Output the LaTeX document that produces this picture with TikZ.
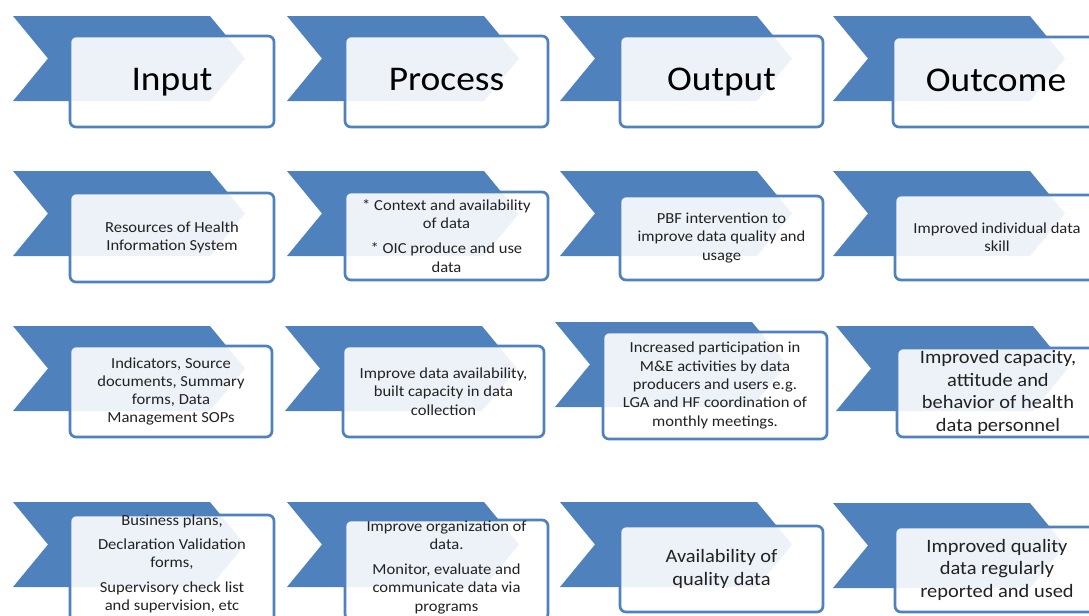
\documentclass[tikz,border=0pt]{standalone}
\usepackage{fontspec}
\setmainfont{Carlito}[FakeStretch=1.08]
\definecolor{accent}{HTML}{4F81BD}
\definecolor{bodyink}{HTML}{222222}

\tikzset{
  chevfill/.style={fill=accent},
  cellframe/.style={draw=accent, line width=2pt, fill=white, fill opacity=0.9,
                    rounded corners=4.5pt},
  headtext/.style={inner sep=0pt, align=center, text=black,
                   text height=19pt, text depth=5pt,
                   font=\fontsize{26}{30}\selectfont},
  celltext/.style={inner sep=0pt, align=center, text=bodyink,
                   font=\fontsize{11.5}{13.7}\selectfont},
  bigtext/.style={inner sep=0pt, align=center, text=bodyink,
                  font=\fontsize{14.2}{16.9}\selectfont}
}

% #1 name, #2 chevron left, #3 chevron top, #4 box left, #5 box right,
% #6 box top, #7 box bottom, #8 text style, #9 text
\newcommand\flowcell[9]{%
  \fill[chevfill] (#2,#3) -- ({#2+197},#3) -- ({#2+232},{#3+42.5})
     -- ({#2+197},{#3+85}) -- (#2,{#3+85}) -- ({#2+35},{#3+42.5}) -- cycle;
  \draw[cellframe] (#4,#6) rectangle (#5,#7);
  \node[#8] (#1) at ({(#4+#5)/2},{(#6+#7)/2}) {#9};
}

\begin{document}
\begin{tikzpicture}[x=0.75pt,y=-0.75pt]
  \useasboundingbox (0,0) rectangle (1089,615);
  \clip (0,0) rectangle (1089,615);

  % header row
  \flowcell{input}{13}{16}{70}{274}{36}{127}{headtext}{Input}
  \flowcell{process}{287}{16}{345}{548}{36}{127}{headtext}{Process}
  \flowcell{output}{560}{16}{620}{823}{36}{127}{headtext}{Output}
  \flowcell{outcome}{833}{16}{893}{1099}{37}{127}{headtext}{Outcome}

  % second row
  \flowcell{in2}{13}{171}{70}{274}{193}{282}{celltext}{Resources of Health\\Information System}
  \flowcell{pr2}{287}{171}{345}{548}{192}{280}{celltext}{* Context and availability\\of data\\[5pt]* OIC produce and use\\data}
  \flowcell{ou2}{560}{171}{620}{823}{196}{280}{celltext}{PBF intervention to\\improve data quality and\\usage}
  \flowcell{oc2}{833}{171}{895}{1099}{195}{280}{celltext}{Improved individual data\\skill}

  % third row
  \flowcell{in3}{13}{326}{70}{272}{346}{437}{celltext}{Indicators, Source\\documents, Summary\\forms, Data\\Management SOPs}
  \flowcell{pr3}{285}{326}{343}{544}{346}{437}{celltext}{Improve data availability,\\built capacity in data\\collection}
  \flowcell{ou3}{555}{322}{603}{827}{332}{439}{celltext}{Increased participation in\\M\&E activities by data\\producers and users e.g.\\LGA and HF coordination of\\monthly meetings.}
  \flowcell{oc3}{836}{326}{897}{1099}{348}{437}{bigtext}{Improved capacity,\\attitude and\\behavior of health\\data personnel}

  % fourth row (first two boxes run past the lower edge)
  \flowcell{in4}{13}{502}{70}{274}{515}{622}{celltext,yshift=3.5pt}{Business plans,\\[4.5pt]Declaration Validation\\forms,\\[4.5pt]Supervisory check list\\and supervision, etc}
  \flowcell{pr4}{287}{502}{345}{548}{520}{620}{celltext,yshift=2pt}{Improve organization of\\data.\\[5pt]Monitor, evaluate and\\communicate data via\\programs}
  \flowcell{ou4}{560}{502}{620}{823}{526}{612}{bigtext}{Availability of\\quality data}
  \flowcell{oc4}{833}{503}{895}{1099}{527}{612}{bigtext}{Improved quality\\data regularly\\reported and used}
\end{tikzpicture}
\end{document}
